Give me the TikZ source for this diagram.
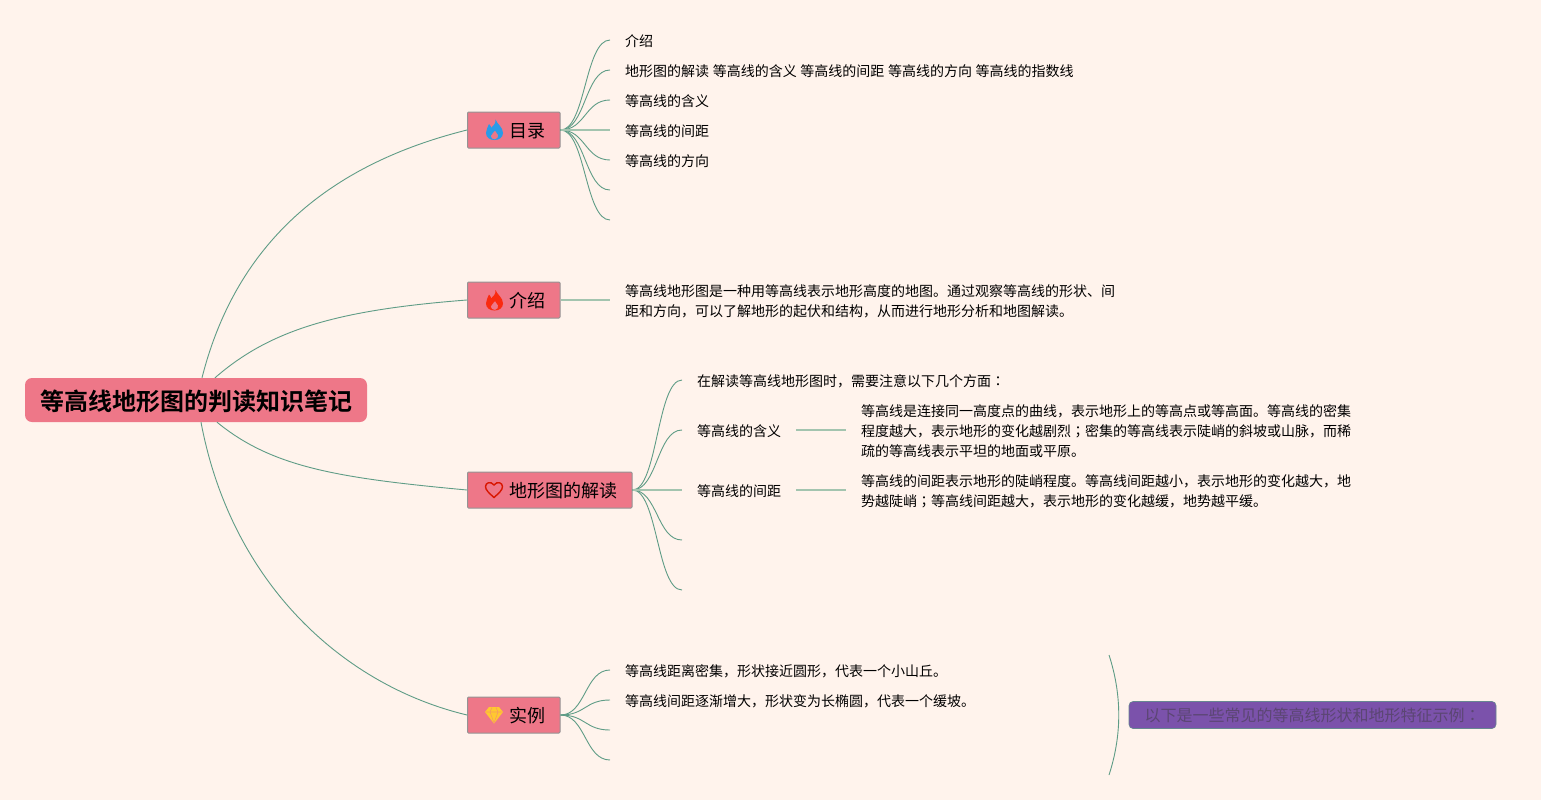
\documentclass[tikz,border=0pt]{standalone}
\usepackage{fontspec}
\setmainfont{Noto Sans CJK SC}
\newfontfamily\boldcjk{Noto Sans CJK SC Bold}
\newfontfamily\tcpunct{Noto Sans CJK TC}
\definecolor{bgc}{HTML}{FFF3EC}
\definecolor{pinkc}{HTML}{EE7788}
\definecolor{edgec}{HTML}{5F9C86}
\definecolor{stemc}{HTML}{A3C4AF}
\definecolor{purc}{HTML}{7B52AB}
\definecolor{purt}{HTML}{5B4673}
\definecolor{flameblue}{HTML}{2A9BE8}
\definecolor{flamered}{HTML}{FA2A10}
\definecolor{gemc}{HTML}{FFC830}
\newcommand{\brtext}[1]{\hspace*{42pt}#1\hspace*{14.5pt}}
\newcommand{\semi}{{\tcpunct ；}}
\newcommand{\colo}{{\tcpunct ：}}
\newcommand{\wsp}{\hspace*{3.6pt}}
\newcommand{\flameicon}[3]{%
\fill[#3,shift={(#1,#2)},even odd rule] (1,-10.5) .. controls (2.5,-6) and (8.5,-3) .. (8.5,3) .. controls (8.5,7.5) and (4.5,10) .. (0,10) .. controls (-4.5,10) and (-8.5,7.5) .. (-8.5,3) .. controls (-8.5,-0.5) and (-6.5,-3) .. (-5.5,-6) .. controls (-4.2,-4.8) and (-3.6,-3.4) .. (-3.2,-2.2) .. controls (-1,-4) and (1.5,-7) .. (1,-10.5) -- cycle
 (0.5,9.5) .. controls (3,9) and (4,7) .. (3.6,5) .. controls (3,3) and (1.5,2) .. (0.5,0.5) .. controls (0,2.5) and (-3.5,3.5) .. (-3.8,6) .. controls (-3.8,8) and (-2,9.5) .. (0.5,9.5) -- cycle;}
\tikzset{
 every node/.style={text=black},
 rootbox/.style={fill=pinkc,rounded corners=7pt,minimum width=342pt,minimum height=44pt,inner sep=0pt,text height=21pt,text depth=0pt,font=\boldcjk\fontsize{24}{28}\selectfont},
 branchbox/.style={fill=pinkc,draw=black!42,line width=1pt,rounded corners=1pt,minimum height=36pt,inner sep=0pt,anchor=west,text height=15.7pt,text depth=0pt,font=\fontsize{18}{22}\selectfont},
 leaf/.style={anchor=west,inner xsep=15pt,inner ysep=0pt,align=left,font=\fontsize{14}{20}\selectfont},
 conn/.style={draw=edgec,line width=0.9pt},
 stem/.style={draw=stemc,line width=1.5pt},
 purplebox/.style={fill=purc,draw=edgec!70!purc,line width=0.6pt,rounded corners=4pt,minimum width=367pt,minimum height=27pt,inner sep=0pt,text=purt,font=\fontsize{16}{20}\selectfont}
}
\begin{document}
\begin{tikzpicture}[x=1pt,y=-1pt]
\useasboundingbox[fill=bgc] (0,0) rectangle (1541,800);
\node[rootbox] (root) at (196,400) {等高线地形图的判读知识笔记};
\node[branchbox] (mulu) at (467,130) {\brtext{目录}};
\node[branchbox] (intro) at (467,300) {\brtext{介绍}};
\node[branchbox] (jiedu) at (467,490) {\brtext{地形图的解读}};
\node[branchbox] (shili) at (467,715) {\brtext{实例}};
% icons
\flameicon{494.5}{130}{flameblue}
\flameicon{494.5}{300.5}{flamered}
\draw[red!80!orange!85!black,line width=1.4pt] (494,497.5) .. controls (489,493) and (485.5,490) .. (485.5,486.5) .. controls (485.5,483) and (490.5,480.5) .. (494,485) .. controls (497.5,480.5) and (502.5,483) .. (502.5,486.5) .. controls (502.5,490) and (499,493) .. (494,497.5) -- cycle;
\fill[gemc] (489,707) -- (499,707) -- (503,712) -- (494,723.5) -- (485,712) -- cycle;
\draw[pinkc!55!gemc,line width=0.6pt] (485.5,712) -- (502.5,712) (490,712) -- (494,723) -- (498,712) (490,712) -- (492,707.5) (498,712) -- (496,707.5);
% leaves
\node[leaf] (m1) at (610,41.5) {介绍};
\node[leaf] (m2) at (610,71.5) {地形图的解读\wsp 等高线的含义\wsp 等高线的间距\wsp 等高线的方向\wsp 等高线的指数线};
\node[leaf] (m3) at (610,101.5) {等高线的含义};
\node[leaf] (m4) at (610,131.5) {等高线的间距};
\node[leaf] (m5) at (610,161.5) {等高线的方向};
\coordinate (m6) at (610,190);
\coordinate (m7) at (610,220);
\node[leaf] (i1) at (610,301.5) {等高线地形图是一种用等高线表示地形高度的地图。通过观察等高线的形状、间\\距和方向，可以了解地形的起伏和结构，从而进行地形分析和地图解读。};
\node[leaf] (j1) at (682,381.5) {在解读等高线地形图时，需要注意以下几个方面\colo};
\node[leaf] (j2) at (682,431.5) {等高线的含义};
\node[leaf] (j3) at (682,491.5) {等高线的间距};
\coordinate (j4) at (682,540);
\coordinate (j5) at (682,590);
\node[leaf] (j2a) at (846,431.5) {等高线是连接同一高度点的曲线，表示地形上的等高点或等高面。等高线的密集\\程度越大，表示地形的变化越剧烈\semi 密集的等高线表示陡峭的斜坡或山脉，而稀\\疏的等高线表示平坦的地面或平原。};
\node[leaf] (j3a) at (846,491.5) {等高线的间距表示地形的陡峭程度。等高线间距越小，表示地形的变化越大，地\\势越陡峭\semi 等高线间距越大，表示地形的变化越缓，地势越平缓。};
\node[leaf] (s1) at (610,671.5) {等高线距离密集，形状接近圆形，代表一个小山丘。};
\node[leaf] (s2) at (610,701.5) {等高线间距逐渐增大，形状变为长椭圆，代表一个缓坡。};
\coordinate (s3) at (610,730);
\coordinate (s4) at (610,760);
\node[purplebox] (note) at (1312.5,715) {以下是一些常见的等高线形状和地形特征示例\colo};
\coordinate (b1) at (1109,655);
\coordinate (b2) at (1109,775);
% root connectors
\draw[conn] ([xshift=6pt]root.north) .. controls +(38,-150) and +(-120,30) .. (mulu.west);
\draw[conn] ([xshift=19pt]root.north) .. controls +(55,-48) and +(-130,10) .. (intro.west);
\draw[conn] ([xshift=21pt]root.south) .. controls +(55,45) and +(-130,-12) .. (jiedu.west);
\draw[conn] ([xshift=5pt]root.south) .. controls +(30,160) and +(-125,-30) .. (shili.west);
% branch connectors
\foreach \t in {m1,m2,m3,m5} \draw[conn] (mulu.east) .. controls +(25,0) and +(-25,0) .. ([yshift=1.5pt]\t.west);
\foreach \t in {m6,m7} \draw[conn] (mulu.east) .. controls +(25,0) and +(-25,0) .. (\t);
\draw[stem] (mulu.east) -- ([yshift=1.5pt]m4.west);
\draw[stem] (intro.east) -- ([yshift=1.5pt]i1.west);
\foreach \t in {j1,j2} \draw[conn] (jiedu.east) .. controls +(25,0) and +(-25,0) .. ([yshift=1.5pt]\t.west);
\foreach \t in {j4,j5} \draw[conn] (jiedu.east) .. controls +(25,0) and +(-25,0) .. (\t);
\draw[stem] (jiedu.east) -- ([yshift=1.5pt]j3.west);
\draw[stem] ([yshift=1.5pt]j2.east) -- ([yshift=1.5pt]j2a.west);
\draw[stem] ([yshift=1.5pt]j3.east) -- ([yshift=1.5pt]j3a.west);
\foreach \t in {s1,s2} \draw[conn] (shili.east) .. controls +(25,0) and +(-25,0) .. ([yshift=1.5pt]\t.west);
\foreach \t in {s3,s4} \draw[conn] (shili.east) .. controls +(25,0) and +(-25,0) .. (\t);
\draw[conn] (b1) .. controls (1122,695) and (1122,735) .. (b2);
\end{tikzpicture}
\end{document}
